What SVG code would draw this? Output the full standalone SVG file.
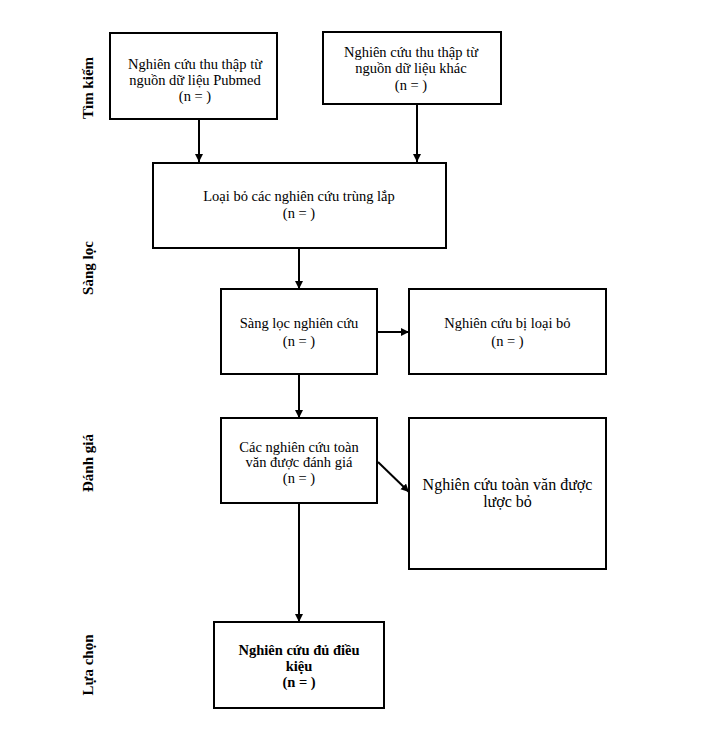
<svg xmlns="http://www.w3.org/2000/svg" width="724" height="737" viewBox="0 0 724 737">
<style>
.box{fill:#fff;stroke:#000;stroke-width:2}
.t{font-family:"Liberation Serif","Times New Roman",serif;font-size:14.5px;fill:#000;text-anchor:middle}
.big{font-size:16px}
.b{font-weight:bold}
.side{font-family:"Liberation Serif","Times New Roman",serif;font-size:15px;font-weight:bold;fill:#000;text-anchor:middle}
.c{stroke:#000;stroke-width:2;fill:none;marker-end:url(#ah)}
</style>
<defs>
<marker id="ah" markerUnits="userSpaceOnUse" markerWidth="9" markerHeight="9" refX="8" refY="4" orient="auto">
<path d="M0,0 L8,4 L0,8 z" fill="#000"/>
</marker>
</defs>
<rect width="724" height="737" fill="#fff"/>
<g id="labels">
<text class="side" transform="translate(93,88) rotate(-90)">Tìm kiếm</text>
<text class="side" transform="translate(93,268) rotate(-90)">Sàng lọc</text>
<text class="side" transform="translate(93,463) rotate(-90)">Đánh giá</text>
<text class="side" transform="translate(93,665) rotate(-90)">Lựa chọn</text>
</g>
<g id="connectors">
<line class="c" x1="199" y1="119" x2="199" y2="162"/>
<line class="c" x1="417" y1="104" x2="417" y2="162"/>
<line class="c" x1="299" y1="248" x2="299" y2="289"/>
<line class="c" x1="377" y1="332" x2="409" y2="332"/>
<line class="c" x1="299" y1="374" x2="299" y2="418"/>
<line class="c" x1="378" y1="462" x2="409" y2="492"/>
<line class="c" x1="299" y1="503" x2="299" y2="622"/>
</g>
<g id="n1">
<rect class="box" x="110" y="33" width="167" height="86"/>
<text class="t" x="195" y="69">Nghiên cứu thu thập từ</text>
<text class="t" x="195" y="85">nguồn dữ liệu Pubmed</text>
<text class="t" x="195" y="101">(n = )</text>
</g>
<g id="n2">
<rect class="box" x="323" y="32" width="178" height="72"/>
<text class="t" x="411" y="57">Nghiên cứu thu thập từ</text>
<text class="t" x="411" y="73">nguồn dữ liệu khác</text>
<text class="t" x="411" y="90">(n = )</text>
</g>
<g id="n3">
<rect class="box" x="153" y="163" width="293" height="85"/>
<text class="t" x="299" y="201">Loại bỏ các nghiên cứu trùng lắp</text>
<text class="t" x="299" y="218">(n = )</text>
</g>
<g id="n4">
<rect class="box" x="221" y="289" width="156" height="85"/>
<text class="t" x="299" y="328">Sàng lọc nghiên cứu</text>
<text class="t" x="299" y="346">(n = )</text>
</g>
<g id="n5">
<rect class="box" x="409" y="289" width="197" height="85"/>
<text class="t" x="507.5" y="328">Nghiên cứu bị loại bỏ</text>
<text class="t" x="507.5" y="346">(n = )</text>
</g>
<g id="n6">
<rect class="box" x="221" y="418" width="156" height="85"/>
<text class="t" x="299" y="452">Các nghiên cứu toàn</text>
<text class="t" x="299" y="467">văn được đánh giá</text>
<text class="t" x="299" y="483">(n = )</text>
</g>
<g id="n7">
<rect class="box" x="409" y="418" width="197" height="151"/>
<text class="t big" x="507.5" y="490">Nghiên cứu toàn văn được</text>
<text class="t big" x="507.5" y="507">lược bỏ</text>
</g>
<g id="n8">
<rect class="box" x="214" y="622" width="170" height="86"/>
<text class="t b" x="299" y="655">Nghiên cứu đủ điều</text>
<text class="t b" x="299" y="671">kiệu</text>
<text class="t b" x="299" y="687">(n = )</text>
</g>
</svg>
